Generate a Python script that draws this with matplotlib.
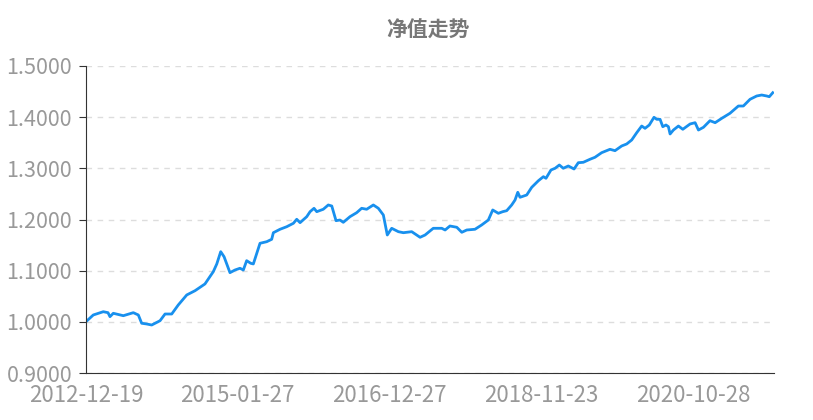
import matplotlib
matplotlib.use("Agg")
from matplotlib import pyplot as plt


# 净值走势 (net value trend)
# x = position along the category axis (100 steps between labelled dates)
xPos = [0, 4.8, 11.4, 14.5, 15.8, 18.0, 24.6, 31.2, 34.5, 36.7, 40.0, 43.3,
        48.8, 52.1, 56.5, 60.8, 66.4, 71.9, 78.4, 83.9, 86.2, 88.8, 91.0,
        94.9, 98.2, 101.5, 103.7, 105.9, 108.6, 110.3, 114.7, 119.1, 122.4,
        123.5, 127.9, 132.3, 136.7, 138.9, 141.1, 145.5, 147.7, 150.3, 152.1,
        156.4, 159.7, 162.0, 164.8, 167.4, 169.6, 174.0, 178.4, 181.7, 185.0,
        189.4, 192.7, 196.0, 197.1, 198.6, 201.5, 205.9, 209.2, 214.7, 220.2,
        223.5, 228.9, 234.5, 236.7, 239.9, 244.4, 247.7, 251.0, 256.4, 260.8,
        265.2, 268.1, 271.8, 274.7, 277.3, 280.6, 282.8, 284.6, 286.1, 290.5,
        293.8, 298.2, 301.5, 303.2, 306.5, 309.2, 312.0, 314.6, 317.9, 321.7,
        324.5, 327.8, 332.2, 335.5, 339.9, 345.4, 348.7, 353.1, 356.4, 359.7,
        363.0, 366.3, 368.5, 371.3, 374.4, 376.2, 378.4, 380.2, 382.3, 383.9,
        385.0, 387.2, 390.5, 393.4, 398.2, 401.5, 403.7, 407.0, 411.3, 414.7,
        419.1, 424.5, 430.0, 433.3, 437.7, 442.1, 445.4, 448.7, 450.4, 452.7]

netValue = [1.0003, 1.0134, 1.0198, 1.0179, 1.0101, 1.0167, 1.0120, 1.0179,
            1.0134, 0.9972, 0.9958, 0.9938, 1.0022, 1.0153, 1.0153, 1.0329,
            1.0525, 1.0609, 1.0740, 1.0980, 1.1131, 1.1371, 1.1273, 1.0961,
            1.1013, 1.1047, 1.1013, 1.1195, 1.1144, 1.1131, 1.1535, 1.1566,
            1.1613, 1.1742, 1.1809, 1.1859, 1.1926, 1.2004, 1.1938, 1.2055,
            1.2153, 1.2219, 1.2153, 1.2200, 1.2284, 1.2264, 1.1977, 1.1990,
            1.1945, 1.2055, 1.2133, 1.2219, 1.2200, 1.2284, 1.2219, 1.2088,
            1.1926, 1.1697, 1.1828, 1.1762, 1.1742, 1.1762, 1.1652, 1.1697,
            1.1828, 1.1828, 1.1795, 1.1873, 1.1848, 1.1750, 1.1795, 1.1809,
            1.1893, 1.1990, 1.2186, 1.2121, 1.2153, 1.2172, 1.2284, 1.2381,
            1.2532, 1.2434, 1.2479, 1.2629, 1.2758, 1.2837, 1.2805, 1.2968,
            1.3001, 1.3065, 1.3001, 1.3046, 1.2987, 1.3110, 1.3118, 1.3177,
            1.3216, 1.3306, 1.3372, 1.3345, 1.3437, 1.3476, 1.3554, 1.3696,
            1.3827, 1.3782, 1.3847, 1.3997, 1.3958, 1.3958, 1.3814, 1.3847,
            1.3814, 1.3671, 1.3749, 1.3827, 1.3763, 1.3867, 1.3892, 1.3749,
            1.3802, 1.3931, 1.3892, 1.3978, 1.4076, 1.4218, 1.4218, 1.4349,
            1.4414, 1.4433, 1.4414, 1.4400, 1.4478]

dateTicks = [0, 100, 200, 300, 400]
dateLabels = ["2012-12-19", "2015-01-27", "2016-12-27", "2018-11-23", "2020-10-28"]
valueTicks = [0.9, 1.0, 1.1, 1.2, 1.3, 1.4, 1.5]

plt.rcParams["font.family"] = ["Noto Sans CJK SC", "DejaVu Sans"]

fig = plt.figure(figsize=(8.13, 4.2), dpi=100)
ax = fig.add_axes([86 / 813, 1 - 373 / 420, (774 - 86) / 813, (373 - 66) / 420])

ax.plot(xPos, netValue, color="#1890ee", linewidth=2.0, solid_joinstyle="round")

ax.set_xlim(0, 453.5)
ax.set_ylim(0.9, 1.5)
ax.set_yticks(valueTicks)
ax.set_yticklabels(["%.4f" % v for v in valueTicks])
ax.set_xticks(dateTicks)
ax.set_xticklabels(dateLabels)

ax.grid(axis="y", linestyle=(0, (4, 4)), color="#dddddd", linewidth=1)
ax.set_axisbelow(True)

for side in ["top", "right"]:
    ax.spines[side].set_visible(False)
ax.spines["left"].set_color("#333333")
ax.spines["bottom"].set_color("#333333")

ax.tick_params(axis="y", length=5, color="#333333", labelcolor="#999999",
               labelsize=15.5, pad=5)
ax.tick_params(axis="x", length=0, labelcolor="#999999", labelsize=16, pad=8)

fig.text(428 / 813, 1 - 30 / 420, "净值走势", ha="center", va="center",
         fontsize=15, fontweight="bold", color="#777777")

fig.savefig("out.png", dpi=100)
